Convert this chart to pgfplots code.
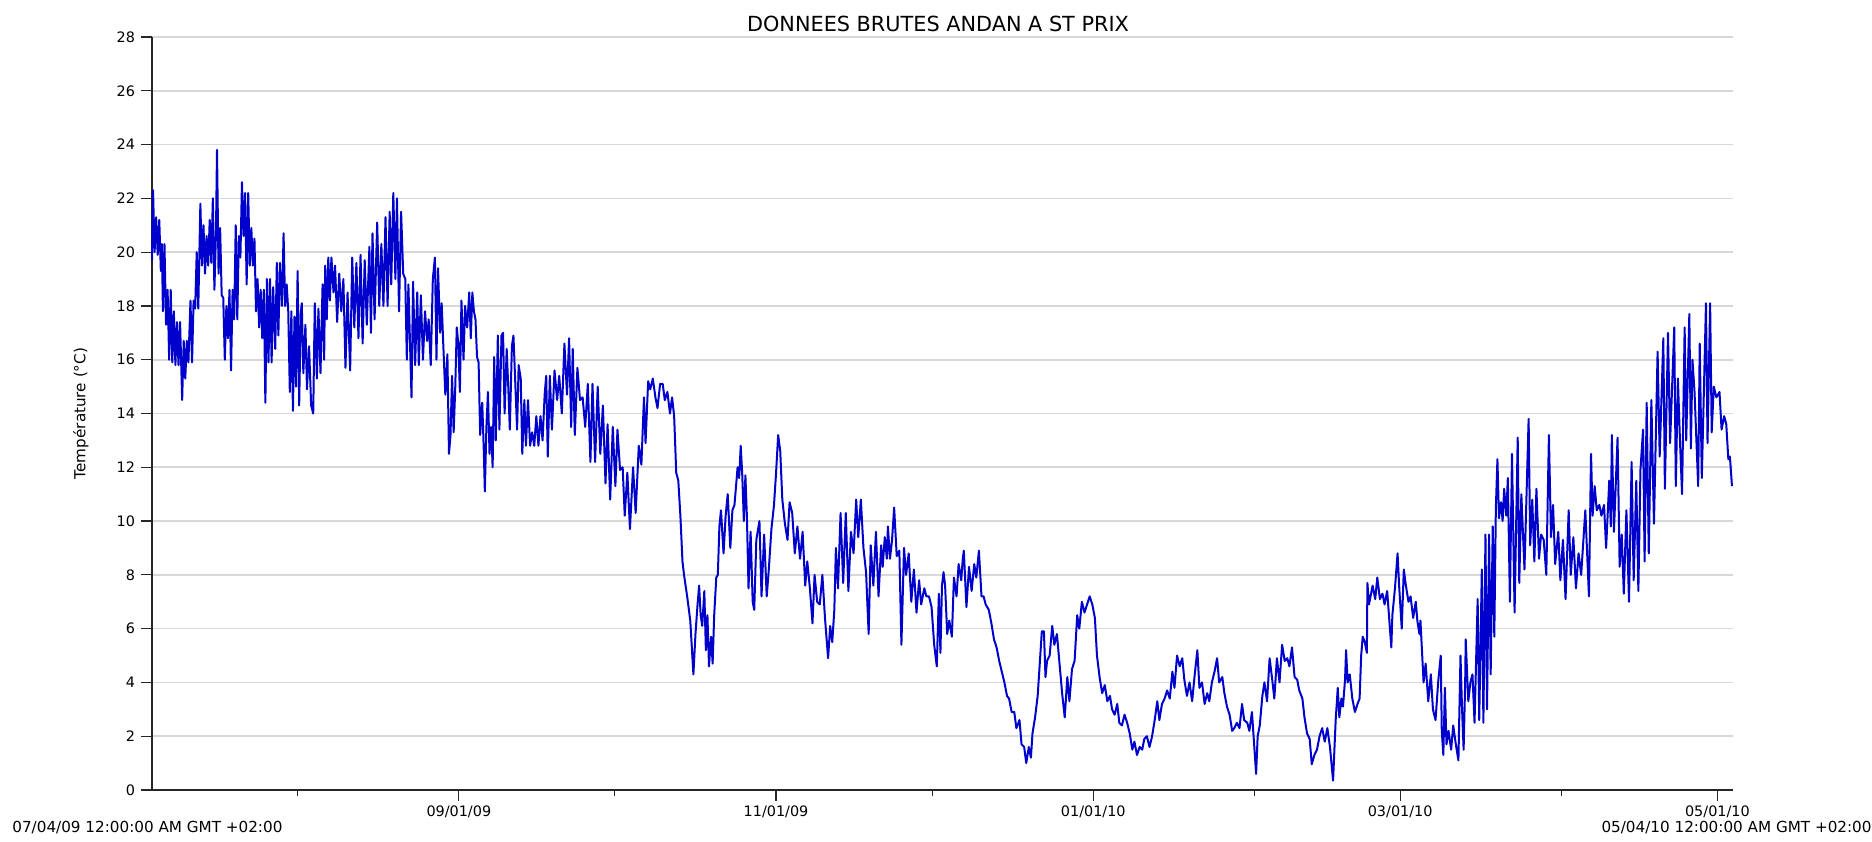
\documentclass[border=0pt]{standalone}
\usepackage{fontspec}
\setmainfont{DejaVu Sans}
\usepackage{pgfplots}
\pgfplotsset{compat=1.18}
\definecolor{lineblue}{RGB}{0,0,204}
\definecolor{gridgray}{RGB}{216,216,216}
\begin{document}
\begin{tikzpicture}
\path[use as bounding box] (-76pt,-25.5pt) rectangle (860pt,395pt);
\begin{axis}[
  at={(0,0)}, anchor=south west,
  scale only axis, width=790.5pt, height=376.5pt,
  xmin=0, xmax=304, ymin=0, ymax=28,
  axis lines*=left,
  axis line style={line width=0.8pt, black!85},
  ytick={0,2,...,28},
  ymajorgrids, grid style={gridgray, line width=0.8pt},
  xtick={59,120,181,240,301},
  xticklabels={09/01/09,11/01/09,01/01/10,03/01/10,05/01/10},
  minor xtick={28,89,150,212,271},
  tick align=outside,
  major tick length=5.5pt, minor tick length=3.2pt,
  tick style={black!85, line width=0.6pt},
  /pgf/number format/assume math mode=true,
  ticklabel style={font=\fontsize{7.2}{8}\selectfont},
  xticklabel style={yshift=1pt},
  yticklabel style={xshift=0.5pt},
  clip=false,
]
\addplot[lineblue, line width=1pt, line join=round, no marks] coordinates {
(0,19.7)(0.2,22.3)(0.5,20.0)(0.8,21.3)(1.1,19.9)(1.4,21.2)(1.7,19.3)(1.9,20.3)(2.1,17.8)(2.4,20.3)(2.7,17.3)(3.0,18.6)(3.3,16.0)(3.6,18.6)(3.9,15.9)(4.2,17.8)(4.5,15.8)(4.8,17.4)(5.1,15.8)(5.4,17.4)(5.8,14.5)(6.1,16.7)(6.4,15.3)(6.7,16.7)(7.0,15.9)(7.4,18.2)(7.7,15.9)(8.0,18.2)(8.3,17.9)(8.6,20.0)(8.9,17.9)(9.3,21.8)(9.6,19.5)(9.9,21.0)(10.2,19.2)(10.5,20.6)(10.8,19.5)(11.1,21.2)(11.4,19.6)(11.7,22.0)(12.0,18.6)(12.3,20.7)(12.5,23.8)(12.8,19.2)(13.1,20.9)(13.4,18.4)(13.7,18.3)(14.0,16.0)(14.3,18.0)(14.6,16.8)(14.9,18.6)(15.2,15.6)(15.5,18.6)(15.8,17.5)(16.1,21.0)(16.4,17.5)(16.7,20.6)(17.0,19.8)(17.3,22.6)(17.6,20.6)(17.9,22.2)(18.2,18.8)(18.5,22.2)(18.8,19.5)(19.1,20.9)(19.4,19.5)(19.7,20.5)(20.0,17.8)(20.3,19.0)(20.6,17.2)(20.9,18.6)(21.2,16.8)(21.5,18.6)(21.8,14.4)(22.1,19.0)(22.4,15.9)(22.7,19.0)(23.0,15.9)(23.3,18.7)(23.7,16.4)(24.0,19.6)(24.3,16.9)(24.6,19.6)(25.0,18.0)(25.3,20.7)(25.6,18.0)(25.9,18.8)(26.2,17.8)(26.5,14.8)(26.8,17.8)(27.1,14.1)(27.4,17.6)(27.7,15.0)
(28.0,19.3)(28.3,14.3)(28.6,17.7)(28.8,18.1)(29.1,15.5)(29.5,17.3)(29.8,14.9)(30.2,16.5)(30.6,14.3)(31.0,14.0)(31.3,18.1)(31.7,15.3)(32.0,17.9)(32.4,15.5)(32.8,18.8)(33.1,16.0)(33.3,19.5)(33.6,17.5)(33.9,19.8)(34.2,18.2)(34.5,19.8)(34.9,18.5)(35.2,19.5)(35.6,17.4)(36.0,19.2)(36.4,17.8)(36.8,19.0)(37.2,15.7)(37.6,18.5)(38.1,15.6)(38.5,19.8)(38.9,17.2)(39.3,19.6)(39.7,16.8)(40.1,19.9)(40.5,16.6)(40.9,19.7)(41.3,17.3)(41.8,20.2)(42.1,17.0)(42.4,20.7)(42.8,17.5)(43.3,21.1)(43.7,18.0)(44.1,20.3)(44.5,18.0)(44.9,21.3)(45.3,18.0)(45.7,21.5)(46.0,18.8)(46.4,22.2)(46.8,19.0)(47.1,22.0)(47.5,17.8)(47.9,21.5)(48.3,19.2)(48.7,19.0)(49.0,16.0)(49.3,18.8)(49.9,14.6)(50.2,18.9)(50.6,15.8)(51.0,18.5)(51.3,15.8)(51.7,18.4)(52.1,16.0)(52.5,17.8)(52.9,16.7)(53.2,17.5)(53.6,15.8)(54.0,19.0)(54.4,19.8)(54.7,16.0)(55.0,19.4)(55.4,17.0)(55.7,18.1)
(56.0,16.6)(56.4,14.7)(56.8,16.2)(57.1,12.5)(57.4,13.2)(57.7,15.4)(58.0,13.3)(58.3,14.9)(58.6,17.2)(58.9,16.6)(59.2,14.8)(59.5,18.2)(59.9,16.0)(60.2,18.0)(60.6,17.2)(61.0,18.5)(61.3,16.8)(61.6,18.5)(61.9,17.8)(62.2,17.5)(62.5,16.1)(62.8,15.9)(63.1,13.2)(63.5,14.4)(63.8,12.6)(64.0,11.1)(64.3,13.5)(64.6,14.8)(64.9,12.5)(65.2,13.5)(65.5,12.0)(65.8,16.1)(66.1,13.0)(66.5,16.9)(66.8,13.4)(67.2,16.9)(67.5,17.0)(67.8,14.0)(68.2,16.4)(68.5,15.0)(68.8,13.4)(69.2,16.5)(69.5,16.9)(69.8,15.4)(70.2,13.4)(70.5,15.8)(70.9,15.3)(71.2,12.5)(71.6,14.5)(71.9,12.8)(72.3,14.5)(72.7,12.8)(73.1,13.3)(73.5,12.8)(73.9,13.9)(74.3,12.8)(74.7,13.9)(75.1,13.0)(75.5,14.7)
(75.8,15.4)(76.1,12.4)(76.5,15.4)(76.9,13.4)(77.4,15.6)(77.9,14.5)(78.3,15.4)(78.8,14.0)(79.3,16.6)(79.8,14.7)(80.2,16.8)(80.6,13.5)(80.9,16.4)(81.3,13.2)(81.8,15.7)(82.3,14.5)(82.8,14.6)(83.3,13.5)(83.8,15.1)(84.3,12.2)(84.7,15.1)(85.2,12.2)(85.7,15.0)(86.2,12.5)(86.7,14.3)(87.2,11.4)(87.6,13.6)(88.1,10.8)(88.6,13.5)(89.1,11.3)(89.5,13.4)(90.0,11.9)(90.5,12.0)(90.9,10.2)(91.4,11.8)(91.9,9.7)(92.5,12.0)(93.0,10.3)(93.6,12.8)(94.1,12.1)(94.6,14.6)(94.9,12.9)(95.4,15.2)(95.8,14.9)(96.3,15.3)(96.8,14.6)(97.2,14.2)(97.7,15.1)(98.2,15.1)(98.6,14.5)(99.1,14.8)(99.6,14.0)(100.0,14.6)(100.4,13.9)(100.8,11.8)(101.2,11.5)(101.6,10.2)(102.0,8.5)(102.3,8.0)(102.9,7.2)(103.5,6.3)(104.1,4.3)(104.5,5.8)(104.9,6.9)(105.2,7.6)(105.5,6.5)(105.8,6.1)(106.2,7.4)(106.5,5.2)(106.8,6.5)(107.1,4.6)(107.5,5.7)(107.8,4.7)(108.1,6.5)(108.5,7.9)(108.8,8.0)(109.1,9.8)(109.4,10.4)(109.9,8.8)(110.3,10.2)(110.7,11.0)(111.2,9.0)(111.6,10.4)(112.0,10.6)(112.6,12.0)(112.9,11.6)(113.2,12.8)(113.5,11.7)(113.8,10.0)(114.1,11.7)(114.4,10.1)(114.7,7.5)(115.1,9.6)(115.5,7.0)(115.8,6.7)(116.2,9.3)(116.8,10.0)(117.2,7.2)(117.7,9.5)(118.2,7.2)(118.6,8.2)(119.1,9.7)(119.6,10.6)(120.0,11.8)(120.4,13.2)(120.8,12.6)(121.2,10.8)(121.7,9.9)(122.2,9.3)(122.6,10.7)(123.1,10.3)(123.6,8.8)(124.1,9.8)(124.6,8.6)(125.1,9.6)(125.6,7.6)(126.0,8.5)(126.5,7.5)(127.0,6.2)(127.4,8.0)(127.9,7.0)(128.4,6.9)(128.9,8.0)(129.4,6.4)(130.0,4.9)(130.4,6.1)(130.8,5.5)(131.2,6.7)(131.5,9.0)(131.9,7.5)(132.4,10.3)(132.9,7.7)(133.4,10.3)(133.9,7.4)(134.4,9.6)(134.9,8.8)(135.4,10.8)(135.8,9.4)(136.3,10.8)(136.8,9.0)(137.3,8.1)(137.8,5.8)(138.2,9.1)(138.7,7.6)(139.2,9.6)(139.7,7.2)(140.2,9.1)(140.5,8.3)(140.9,9.4)(141.3,8.6)(141.5,9.8)(141.9,8.6)(142.3,9.3)(142.7,10.5)(143.2,8.7)(143.7,8.9)(144.1,5.4)(144.6,9.0)(145.0,8.0)(145.5,8.8)(146.0,7.0)(146.5,8.2)(147.0,6.6)(147.5,7.8)(147.9,6.9)(148.5,7.5)(148.9,7.2)(149.4,7.2)(149.9,6.8)(150.4,5.4)(150.9,4.6)(151.3,7.3)(151.6,5.1)(151.9,7.6)
(152.2,8.1)(152.5,7.6)(152.9,5.8)(153.3,6.3)(153.8,5.7)(154.2,7.9)(154.7,7.2)(155.1,8.4)(155.6,7.8)(155.9,8.6)(156.1,8.9)(156.6,6.8)(157.1,8.3)(157.6,7.4)(158.1,8.4)(158.5,7.9)(159.0,8.9)(159.5,7.2)(159.9,7.2)(160.3,6.9)(160.9,6.7)(161.4,6.2)(161.9,5.6)(162.4,5.3)(162.9,4.8)(163.4,4.4)(163.9,4.0)(164.4,3.5)(164.8,3.4)(165.3,2.9)(165.8,2.9)(166.2,2.3)(166.8,2.6)(167.2,1.7)(167.7,1.6)(168.1,1.0)(168.6,1.6)(169.0,1.2)(169.3,2.1)(169.8,2.7)(170.3,3.5)(170.8,5.0)(171.1,5.9)(171.5,5.9)(171.8,4.2)(172.1,4.8)(172.6,5.0)(173.1,6.1)(173.5,5.4)(174.0,5.8)(174.5,4.7)(175.0,3.6)(175.5,2.7)(176.0,4.2)(176.4,3.3)(176.9,4.5)(177.4,4.8)(177.9,6.5)(178.3,6.0)(178.8,7.0)(179.3,6.6)(179.8,6.9)(180.3,7.2)(180.8,6.9)(181.3,6.4)(181.7,5.0)(182.2,4.2)(182.7,3.6)(183.2,3.9)(183.7,3.3)(184.2,3.5)(184.6,3.0)(185.1,2.8)(185.6,3.2)(186.0,2.5)(186.5,2.4)(187.0,2.8)(187.5,2.5)(188.0,2.1)(188.5,1.5)(188.9,1.8)(189.4,1.3)(189.9,1.6)(190.4,1.5)(190.8,1.9)(191.3,2.0)(191.8,1.6)(192.3,2.0)(192.8,2.6)(193.3,3.3)(193.7,2.6)(194.2,3.2)(194.7,3.4)(195.2,3.7)(195.7,3.4)(196.2,4.4)(196.6,3.8)(197.1,5.0)(197.6,4.6)(198.1,4.9)(198.5,4.1)(199.0,3.5)(199.5,4.0)(200.0,3.3)(200.5,4.3)(201.0,5.2)(201.4,3.8)(201.9,4.0)(202.4,3.2)(202.9,3.6)(203.3,3.3)(203.8,4.0)(204.3,4.4)(204.8,4.9)(205.2,4.0)(205.8,4.2)(206.2,3.6)(206.7,3.1)(207.2,2.8)(207.7,2.2)(208.1,2.3)(208.6,2.5)(209.1,2.3)(209.6,3.2)(210.0,2.6)(210.6,2.5)(211.0,2.2)(211.5,2.9)(212.3,0.6)(212.6,2.0)(213.0,2.4)(213.5,3.5)(213.9,4.0)(214.4,3.3)(214.9,4.9)(215.4,4.1)(215.8,3.4)(216.3,4.9)(216.8,4.0)(217.3,5.4)(217.8,4.8)(218.3,4.9)(218.7,4.6)(219.2,5.3)(219.7,4.2)(220.2,4.1)(220.6,3.7)(221.2,3.4)(221.6,2.7)(222.1,2.1)(222.6,1.9)(223.0,0.96)(223.5,1.3)(224.0,1.5)(224.5,2.0)(225.0,2.3)(225.5,1.8)(226.0,2.3)(226.5,1.6)(227.1,0.35)(227.6,2.6)(228.0,3.8)
(228.3,2.7)(228.7,3.4)(229.0,3.1)(229.4,4.1)(229.6,5.2)(229.9,4.0)(230.3,4.3)(230.8,3.4)(231.3,2.9)(231.8,3.2)(232.2,3.4)(232.5,5.0)(232.8,5.7)(233.2,5.5)(233.6,5.1)(233.7,7.7)(234.0,6.9)(234.4,7.3)(234.7,7.6)(235.2,7.1)(235.6,7.9)(236.1,7.1)(236.6,7.3)(237.0,6.9)(237.5,7.4)(238.3,5.3)(238.5,6.5)(239.0,7.5)(239.5,8.8)(239.8,7.6)(240.3,6.0)(240.7,8.2)(241.1,7.6)(241.6,7.0)(242.0,7.2)(242.5,6.4)(243.0,7.0)(243.3,6.3)(243.7,5.8)(243.9,6.3)(244.5,4.0)(244.9,4.7)(245.4,3.3)(245.9,4.3)(246.3,3.0)(246.8,2.6)(247.3,4.0)(247.8,5.0)(248.0,2.2)(248.3,1.3)(248.6,3.8)(248.9,1.7)(249.3,2.2)(249.8,1.5)(250.2,2.4)(250.7,1.7)(251.2,1.1)(251.6,5.0)(251.9,3.0)(252.2,1.5)(252.5,4.0)(252.6,5.6)(253.1,3.3)(253.5,4.0)(253.9,4.3)(254.3,2.5)(254.9,7.1)(255.2,2.6)(255.7,8.2)(256.0,2.5)(256.4,9.5)(256.7,3.0)(257.1,9.5)(257.4,4.3)(257.8,9.8)(258.1,5.7)(258.4,10.5)(258.7,12.3)(259.0,10.1)(259.4,10.7)(259.7,10.0)(260.0,11.2)(260.4,10.2)(260.7,11.6)(261.1,7.0)(261.5,12.5)(262.0,6.6)(262.6,13.1)(262.9,7.7)(263.3,11.0)(263.9,8.2)(264.7,13.8)(265.0,9.1)(265.4,10.8)(265.8,8.5)(266.2,11.2)(266.7,8.6)(267.1,9.5)(267.6,9.3)(268.1,8.0)(268.6,13.2)(269.0,9.4)(269.4,10.6)(269.8,8.4)(270.4,9.6)(270.8,7.8)(271.3,9.3)(271.8,7.1)(272.4,10.4)(272.8,8.0)(273.3,9.4)(273.8,7.5)(274.3,8.8)(274.8,8.0)(275.6,10.4)(276.3,7.2)(276.7,12.5)(277.0,10.2)(277.4,11.3)(277.8,10.4)(278.3,10.6)(278.7,10.2)(279.2,10.6)(279.6,9.0)(280.2,11.5)(280.5,9.8)(280.7,13.2)(281.1,9.6)(281.8,13.1)(282.2,8.3)(282.6,9.5)(283.0,7.3)(283.5,10.4)(284.0,7.0)(284.5,12.2)(284.9,7.8)(285.4,11.5)(285.8,7.4)(286.2,11.9)(286.7,13.4)(287.0,8.5)(287.4,14.4)(287.8,8.8)(288.3,14.5)(288.8,9.9)(289.5,16.3)(289.9,12.4)(290.6,16.8)(290.9,11.2)(291.5,17.0)(291.9,12.9)(292.7,17.2)(293.0,11.3)(293.4,15.3)(293.8,13.0)(294.2,11.0)(294.7,17.2)(295.0,13.0)(295.6,17.7)(295.9,12.7)(296.2,16.0)(296.6,14.8)(297.3,11.3)(297.6,16.6)(298.0,11.6)(298.8,18.1)(299.1,12.9)(299.6,18.1)(299.9,13.3)(300.3,15.0)(300.8,14.6)(301.4,14.8)(301.8,13.4)(302.3,13.9)(302.7,13.6)(303.1,12.3)(303.4,12.4)(303.8,11.3)
};
\end{axis}
\node[font=\fontsize{10.4}{12}\selectfont] at (393pt,383pt) {DONNEES BRUTES ANDAN A ST PRIX};
\node[rotate=90, font=\fontsize{7.6}{9}\selectfont] at (-35.5pt,188.25pt) {Température (°C)};
\node[anchor=west, inner sep=0pt, font=\fontsize{7.6}{9}\selectfont] at (-70pt,-18.75pt) {07/04/09 12:00:00 AM GMT +02:00};
\node[anchor=east, inner sep=0pt, font=\fontsize{7.6}{9}\selectfont] at (860pt,-18.75pt) {05/04/10 12:00:00 AM GMT +02:00};
\end{tikzpicture}
\end{document}
